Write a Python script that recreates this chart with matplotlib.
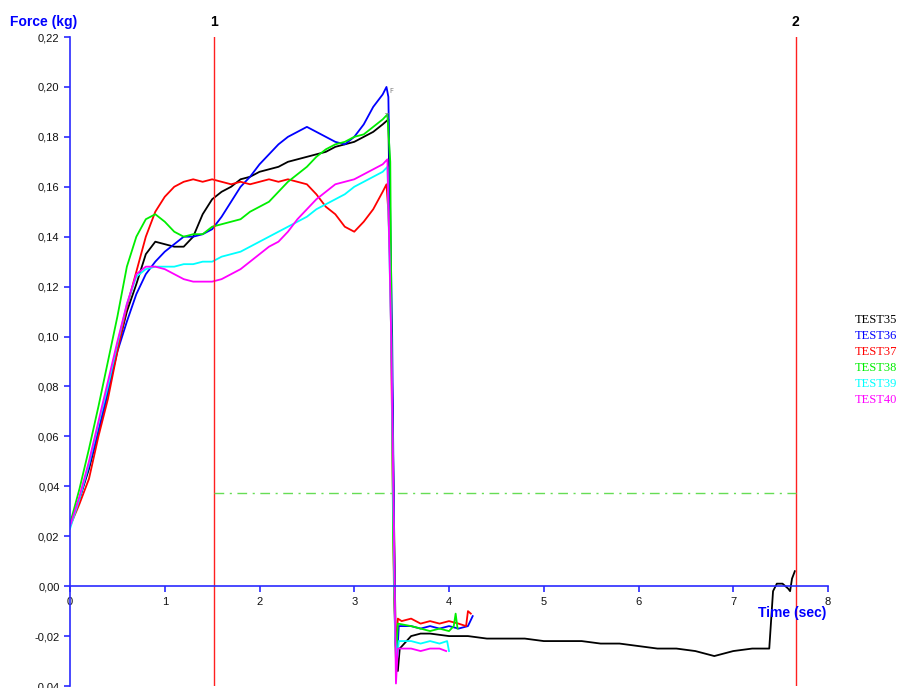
import matplotlib
matplotlib.use("Agg")
import matplotlib.pyplot as plt

# common time grid for the loading part (sec)
t_up = [0.0, 0.1, 0.2, 0.3, 0.4, 0.5, 0.6, 0.7, 0.8, 0.9, 1.0, 1.1, 1.2, 1.3, 1.4, 1.5, 1.6,
        1.7, 1.8, 1.9, 2.0, 2.1, 2.2, 2.3, 2.4, 2.5, 2.6, 2.7, 2.8, 2.9, 3.0, 3.1, 3.2, 3.3]

# force values (kg) on t_up
f35 = [0.024, 0.035, 0.047, 0.062, 0.078, 0.095, 0.110, 0.121, 0.133, 0.138, 0.137, 0.136,
       0.136, 0.140, 0.149, 0.155, 0.158, 0.160, 0.163, 0.164, 0.166, 0.167, 0.168, 0.170,
       0.171, 0.172, 0.173, 0.174, 0.176, 0.177, 0.178, 0.180, 0.182, 0.185]
f36 = [0.025, 0.035, 0.048, 0.062, 0.078, 0.094, 0.106, 0.117, 0.125, 0.130, 0.134, 0.137,
       0.140, 0.140, 0.141, 0.143, 0.148, 0.154, 0.160, 0.164, 0.169, 0.173, 0.177, 0.180,
       0.182, 0.184, 0.182, 0.180, 0.178, 0.177, 0.180, 0.185, 0.192, 0.197]
f37 = [0.024, 0.033, 0.043, 0.060, 0.075, 0.094, 0.112, 0.126, 0.140, 0.150, 0.156, 0.160,
       0.162, 0.163, 0.162, 0.163, 0.162, 0.161, 0.162, 0.161, 0.162, 0.163, 0.162, 0.163,
       0.162, 0.161, 0.157, 0.152, 0.149, 0.144, 0.142, 0.146, 0.151, 0.158]
f38 = [0.025, 0.039, 0.055, 0.072, 0.090, 0.108, 0.128, 0.140, 0.147, 0.149, 0.146, 0.142,
       0.140, 0.141, 0.141, 0.144, 0.145, 0.146, 0.147, 0.150, 0.152, 0.154, 0.158, 0.162,
       0.165, 0.168, 0.172, 0.175, 0.177, 0.178, 0.180, 0.181, 0.184, 0.187]
f39 = [0.023, 0.035, 0.049, 0.065, 0.080, 0.097, 0.113, 0.124, 0.127, 0.128, 0.128, 0.128,
       0.129, 0.129, 0.130, 0.130, 0.132, 0.133, 0.134, 0.136, 0.138, 0.140, 0.142, 0.144,
       0.146, 0.148, 0.151, 0.153, 0.155, 0.157, 0.160, 0.162, 0.164, 0.166]
f40 = [0.024, 0.036, 0.050, 0.066, 0.082, 0.098, 0.113, 0.125, 0.128, 0.128, 0.127, 0.125,
       0.123, 0.122, 0.122, 0.122, 0.123, 0.125, 0.127, 0.130, 0.133, 0.136, 0.138, 0.142,
       0.147, 0.151, 0.155, 0.158, 0.161, 0.162, 0.163, 0.165, 0.167, 0.169]

# break and after-break parts
t35_end = [3.36, 3.40, 3.44, 3.46, 3.48, 3.6, 3.7, 3.8, 4.0, 4.2, 4.4, 4.6, 4.8, 5.0, 5.2, 5.4,
           5.6, 5.8, 6.0, 6.2, 6.4, 6.6, 6.8, 6.9, 7.0, 7.2, 7.38, 7.42, 7.46, 7.52, 7.58, 7.6,
           7.62, 7.65]
f35_end = [0.187, 0.080, -0.030, -0.034, -0.025, -0.020, -0.019, -0.019, -0.020, -0.020, -0.021,
           -0.021, -0.021, -0.022, -0.022, -0.022, -0.023, -0.023, -0.024, -0.025, -0.025, -0.026,
           -0.028, -0.027, -0.026, -0.025, -0.025, -0.002, 0.001, 0.001, -0.001, -0.002, 0.003, 0.006]
t36_end = [3.34, 3.36, 3.40, 3.43, 3.45, 3.47, 3.6, 3.7, 3.8, 3.9, 4.0, 4.1, 4.2, 4.25]
f36_end = [0.200, 0.196, 0.100, -0.020, -0.030, -0.016, -0.016, -0.017, -0.016, -0.017, -0.016,
           -0.017, -0.016, -0.012]
t37_end = [3.34, 3.36, 3.38, 3.42, 3.44, 3.46, 3.5, 3.6, 3.7, 3.8, 3.9, 4.0, 4.1, 4.18, 4.2, 4.23]
f37_end = [0.161, 0.150, 0.128, -0.005, -0.025, -0.013, -0.014, -0.013, -0.015, -0.014, -0.015,
           -0.014, -0.015, -0.016, -0.010, -0.011]
t38_end = [3.35, 3.38, 3.41, 3.44, 3.46, 3.6, 3.7, 3.8, 3.9, 4.0, 4.05, 4.07, 4.09]
f38_end = [0.189, 0.170, 0.020, -0.030, -0.015, -0.016, -0.017, -0.018, -0.017, -0.018, -0.016,
           -0.011, -0.017]
t39_end = [3.35, 3.39, 3.43, 3.45, 3.47, 3.6, 3.7, 3.8, 3.9, 3.98, 4.0]
f39_end = [0.168, 0.100, -0.020, -0.030, -0.022, -0.022, -0.023, -0.022, -0.023, -0.022, -0.026]
t40_end = [3.35, 3.39, 3.43, 3.44, 3.46, 3.6, 3.7, 3.8, 3.9, 3.97]
f40_end = [0.171, 0.100, -0.010, -0.039, -0.025, -0.025, -0.026, -0.025, -0.025, -0.026]

names = ["TEST35", "TEST36", "TEST37", "TEST38", "TEST39", "TEST40"]
colors = ["#000000", "#0000ff", "#ff0000", "#00ee00", "#00ffff", "#ff00ff"]

cursor1 = 1.52
cursor2 = 7.66
threshold = 0.0373

yticks = [-0.04, -0.02, 0.00, 0.02, 0.04, 0.06, 0.08, 0.10, 0.12, 0.14, 0.16, 0.18, 0.20, 0.22]
xticks = [0, 1, 2, 3, 4, 5, 6, 7, 8]

fig = plt.figure(figsize=(9, 6.88), dpi=100)
ax = fig.add_axes([0.0778, 0.0029, 0.8422, 0.9433])

series = [(f35, t35_end, f35_end), (f36, t36_end, f36_end), (f37, t37_end, f37_end),
          (f38, t38_end, f38_end), (f39, t39_end, f39_end), (f40, t40_end, f40_end)]
for (f, te, fe), c in zip(series, colors):
    ax.plot(t_up + te, f + fe, color=c, lw=1.3)

# cursors and threshold
ax.axvline(cursor1, color="#ff2020", lw=1.0)
ax.axvline(cursor2, color="#ff2020", lw=1.0)
ax.hlines(threshold, cursor1, cursor2, color="#66dd55", lw=1.0, linestyles=(0, (7, 4, 1.5, 4)))

ax.text(3.37, 0.1985, "F", color="grey", fontsize=5, va="center")
ax.text(3.31, 0.1885, "T", color="grey", fontsize=5, va="center")

ax.set_xlim(0, 8)
ax.set_ylim(-0.04, 0.22)
ax.spines["top"].set_visible(False)
ax.spines["right"].set_visible(False)
ax.spines["bottom"].set_position(("data", 0))
for s in ["left", "bottom"]:
    ax.spines[s].set_color("#2a2aff")
    ax.spines[s].set_linewidth(1.2)

ax.set_yticks(yticks)
ax.set_yticklabels([("%.2f" % v).replace(".", ",") for v in yticks])
ax.set_xticks(xticks)
ax.set_xticklabels([str(v) for v in xticks])
ax.tick_params(colors="#2a2aff", labelcolor="#111111", length=4, width=1.2, labelsize=8)
for lab in ax.get_xticklabels() + ax.get_yticklabels():
    lab.set_family("Liberation Sans")

trans = ax.get_xaxis_transform()
ax.text(cursor1, 1.023, "1", transform=trans, ha="center", va="center",
        fontsize=10, fontweight="bold", family="Liberation Sans")
ax.text(cursor2, 1.023, "2", transform=trans, ha="center", va="center",
        fontsize=10, fontweight="bold", family="Liberation Sans")

fig.text(10 / 900, 1 - 22 / 688, "Force (kg)", color="#0000ff", fontsize=10,
         fontweight="bold", family="Liberation Sans", va="center", ha="left")
ax.text(7.98, -0.0108, "Time (sec)", color="#0000ff", fontsize=10,
        fontweight="bold", family="Liberation Sans", va="center", ha="right")

for i, (n, c) in enumerate(zip(names, colors)):
    fig.text(855 / 900, 1 - (320 + 16 * i) / 688, n, color=c, fontsize=9,
             family="Liberation Serif", va="center", ha="left")

fig.savefig("out.png", dpi=100)
